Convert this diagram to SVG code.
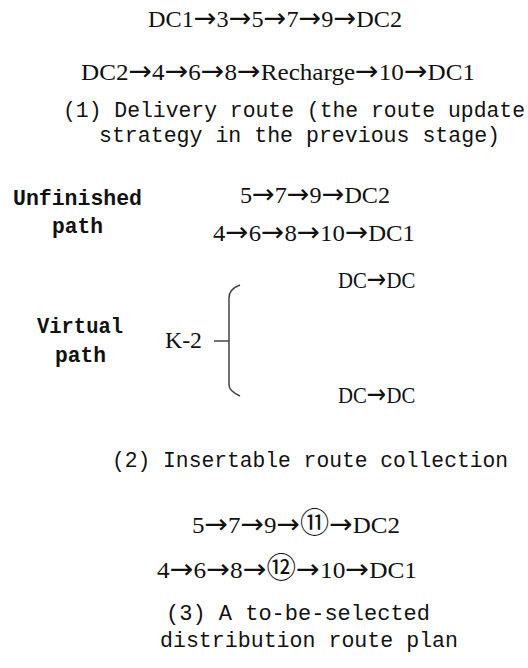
<svg xmlns="http://www.w3.org/2000/svg" width="528" height="668" viewBox="0 0 528 668">
  <style>
    .route { font-family: "Liberation Serif", "Noto Sans CJK SC", serif; font-size: 24px; fill: #111; }
    .ar { font-family: "DejaVu Sans", sans-serif; font-size: 27px; }
    .ring { font-family: "Noto Sans CJK SC", "DejaVu Sans", sans-serif; font-size: 28px; }
    .cap { font-family: "Liberation Mono", "Noto Sans CJK SC", monospace; font-size: 21.5px; fill: #111; }
    .lbl { font-family: "Liberation Mono", "Noto Sans CJK SC", monospace; font-size: 21.5px; font-weight: bold; fill: #111; }
    .brace { fill: none; stroke: #444; stroke-width: 1.5; }
  </style>
  <rect width="528" height="668" fill="#fff"/>

  <!-- (1) delivery routes -->
  <g id="route-1">
    <text class="route" x="148" y="27" textLength="254" lengthAdjust="spacingAndGlyphs">DC1<tspan class="ar">→</tspan>3<tspan class="ar">→</tspan>5<tspan class="ar">→</tspan>7<tspan class="ar">→</tspan>9<tspan class="ar">→</tspan>DC2</text>
  </g>
  <g id="route-2">
    <text class="route" x="81" y="80" textLength="394" lengthAdjust="spacingAndGlyphs">DC2<tspan class="ar">→</tspan>4<tspan class="ar">→</tspan>6<tspan class="ar">→</tspan>8<tspan class="ar">→</tspan>Recharge<tspan class="ar">→</tspan>10<tspan class="ar">→</tspan>DC1</text>
  </g>
  <g id="caption-1">
    <text class="cap" x="63" y="117" textLength="462" lengthAdjust="spacingAndGlyphs">(1) Delivery route (the route update</text>
    <text class="cap" x="99" y="142" textLength="401" lengthAdjust="spacingAndGlyphs">strategy in the previous stage)</text>
  </g>

  <!-- unfinished paths -->
  <g id="unfinished-label">
    <text class="lbl" x="13" y="205" textLength="129" lengthAdjust="spacingAndGlyphs">Unfinished</text>
    <text class="lbl" x="52" y="233" textLength="51" lengthAdjust="spacingAndGlyphs">path</text>
  </g>
  <g id="unfinished-1">
    <text class="route" x="240" y="203" textLength="150" lengthAdjust="spacingAndGlyphs">5<tspan class="ar">→</tspan>7<tspan class="ar">→</tspan>9<tspan class="ar">→</tspan>DC2</text>
  </g>
  <g id="unfinished-2">
    <text class="route" x="213" y="241" textLength="202" lengthAdjust="spacingAndGlyphs">4<tspan class="ar">→</tspan>6<tspan class="ar">→</tspan>8<tspan class="ar">→</tspan>10<tspan class="ar">→</tspan>DC1</text>
  </g>

  <!-- virtual paths -->
  <g id="virtual-label">
    <text class="lbl" x="37" y="333" textLength="86" lengthAdjust="spacingAndGlyphs">Virtual</text>
    <text class="lbl" x="55" y="362" textLength="51" lengthAdjust="spacingAndGlyphs">path</text>
  </g>
  <g id="k-2">
    <text class="route" x="165" y="348" textLength="37" lengthAdjust="spacingAndGlyphs">K-2</text>
  </g>
  <!-- DC→DC pairs are set condensed so the narrow letters match the column -->
  <g id="virtual-top">
    <text class="route" transform="translate(338,288) scale(0.865,1)">DC<tspan class="ar">→</tspan>DC</text>
  </g>
  <g id="virtual-bottom">
    <text class="route" transform="translate(338,403) scale(0.865,1)">DC<tspan class="ar">→</tspan>DC</text>
  </g>
  <g id="connectors">
    <path class="brace" d="M214,341 H229"/>
    <path class="brace" d="M240,285 Q229,289 229,298 V385 Q229,391 240,396"/>
  </g>

  <g id="caption-2">
    <text class="cap" x="112" y="467" textLength="396" lengthAdjust="spacingAndGlyphs">(2) Insertable route collection</text>
  </g>

  <!-- (3) candidate plan -->
  <g id="plan-1">
    <text class="route" x="192" y="533" textLength="208" lengthAdjust="spacingAndGlyphs">5<tspan class="ar">→</tspan>7<tspan class="ar">→</tspan>9<tspan class="ar">→</tspan><tspan class="ring">⑪</tspan><tspan class="ar">→</tspan>DC2</text>
  </g>
  <g id="plan-2">
    <text class="route" x="157" y="578" textLength="260" lengthAdjust="spacingAndGlyphs">4<tspan class="ar">→</tspan>6<tspan class="ar">→</tspan>8<tspan class="ar">→</tspan><tspan class="ring">⑫</tspan><tspan class="ar">→</tspan>10<tspan class="ar">→</tspan>DC1</text>
  </g>
  <g id="caption-3">
    <text class="cap" x="166" y="620" textLength="264" lengthAdjust="spacingAndGlyphs">(3) A to-be-selected</text>
    <text class="cap" x="160" y="647" textLength="298" lengthAdjust="spacingAndGlyphs">distribution route plan</text>
  </g>
</svg>
